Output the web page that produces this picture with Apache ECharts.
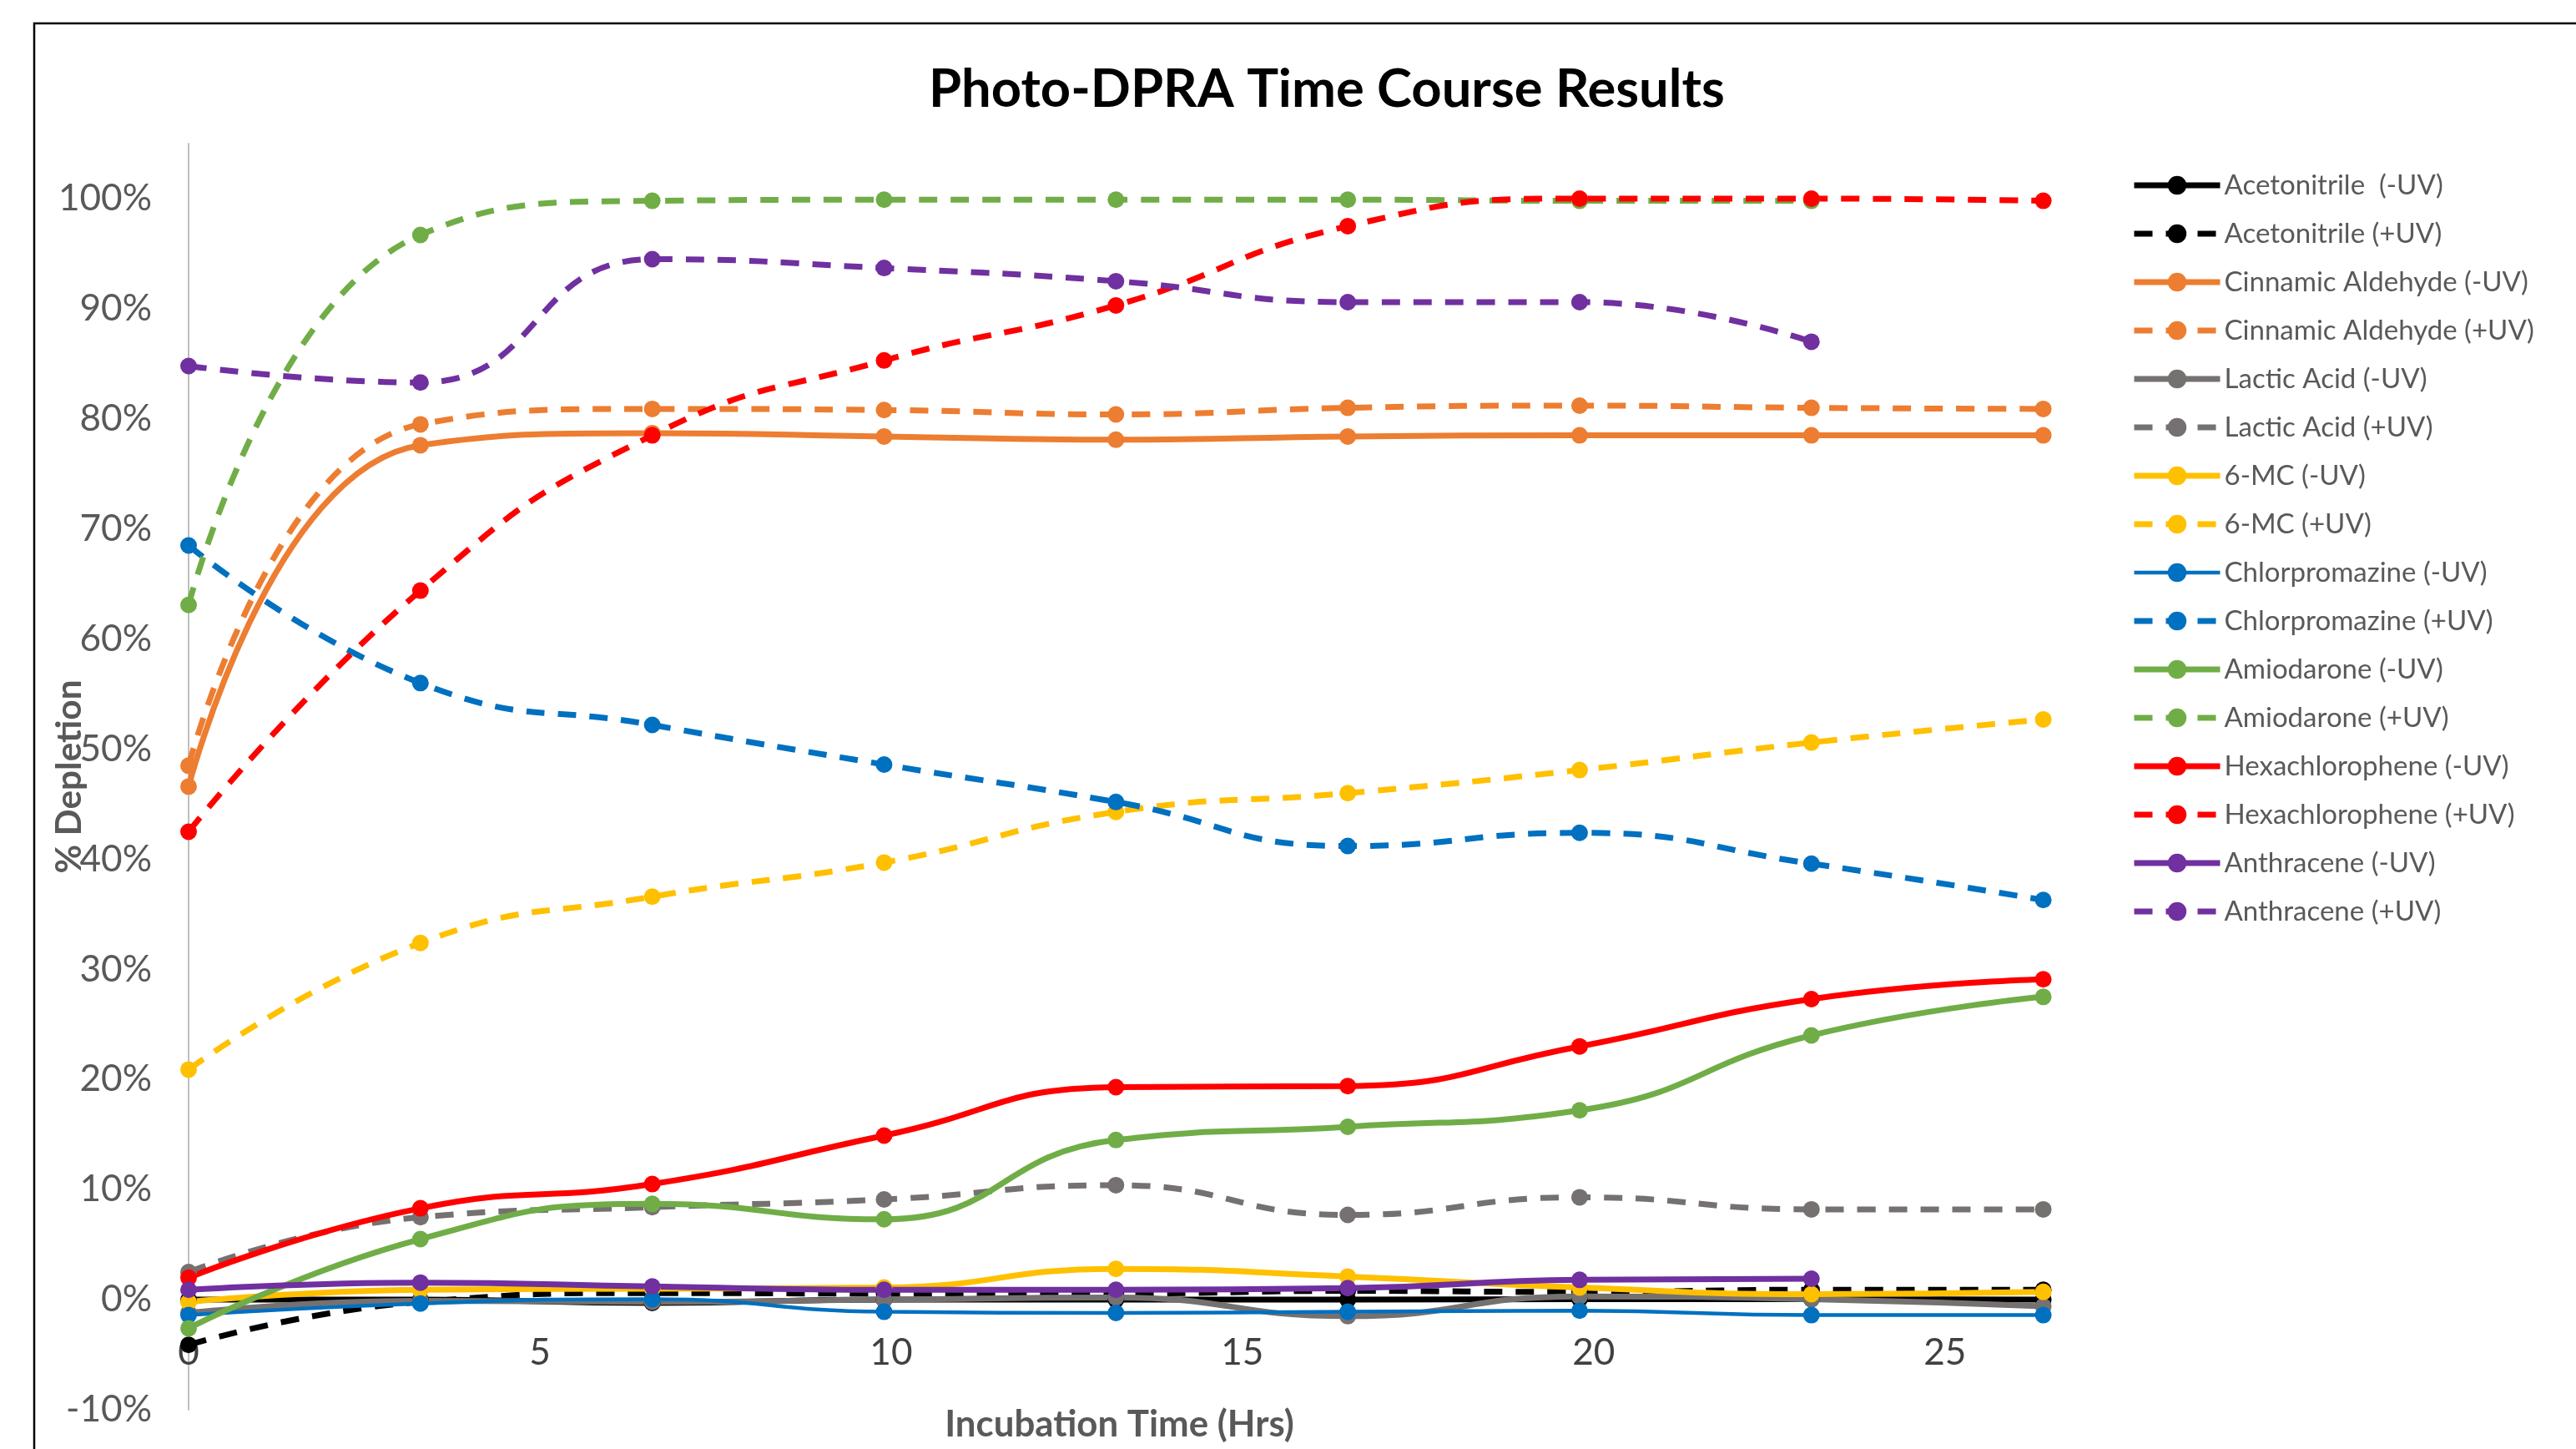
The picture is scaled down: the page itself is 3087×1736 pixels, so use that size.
<!DOCTYPE html>
<html>
<head>
<meta charset="utf-8">
<title>Photo-DPRA Time Course Results</title>
<script src="https://cdn.jsdelivr.net/npm/echarts@6/dist/echarts.min.js"></script>
<style>
  html, body { margin: 0; padding: 0; background: #fff; }
  #chart { width: 3087px; height: 1736px; }
</style>
</head>
<body>
<div id="chart"></div>
<script>
// Incubation times (hrs) and % depletion.
const hours = [0, 3.3, 6.6, 9.9, 13.2, 16.5, 19.8, 23.1, 26.4];

const acetonitrileMinus = [0.0, 0.0, -0.3, 0.0, 0.0, 0.0, 0.05, 0.05, 0.0];
const acetonitrilePlus = [-4.1, -0.2, 0.6, 0.55, 0.55, 0.8, 0.7, 0.9, 0.9];
const cinnamicMinus = [46.6, 77.6, 78.7, 78.4, 78.1, 78.4, 78.5, 78.5, 78.5];
const cinnamicPlus = [48.5, 79.5, 80.9, 80.8, 80.4, 81.0, 81.2, 81.0, 80.9];
const lacticMinus = [-1.2, -0.1, -0.2, 0.0, 0.2, -1.5, 0.3, 0.05, -0.6];
const lacticPlus = [2.5, 7.5, 8.4, 9.1, 10.4, 7.7, 9.3, 8.2, 8.2];
const mcMinus = [-0.2, 0.9, 1.0, 1.1, 2.8, 2.1, 1.1, 0.5, 0.7];
const mcPlus = [20.9, 32.4, 36.6, 39.7, 44.3, 46.0, 48.1, 50.6, 52.7];
const chlorMinus = [-1.4, -0.35, 0.05, -1.1, -1.2, -1.1, -1.0, -1.4, -1.4];
const chlorPlus = [68.5, 56.0, 52.2, 48.6, 45.2, 41.2, 42.4, 39.6, 36.3];
const amioMinus = [-2.6, 5.5, 8.7, 7.3, 14.5, 15.7, 17.2, 24.0, 27.5];
const amioPlus = [63.1, 96.7, 99.8, 99.9, 99.9, 99.9, 99.8, 99.8];
const hexaMinus = [2.0, 8.3, 10.5, 14.9, 19.3, 19.4, 23.0, 27.3, 29.1];
const hexaPlus = [42.5, 64.4, 78.5, 85.3, 90.3, 97.5, 100.0, 100.0, 99.8];
const anthMinus = [0.9, 1.55, 1.2, 0.9, 0.9, 1.05, 1.8, 1.9];
const anthPlus = [84.8, 83.3, 94.5, 93.7, 92.5, 90.6, 90.6, 87.0];

// name, values, colour, dashed (+UV runs are dashed)
const seriesTable = [
  ['Acetonitrile  (-UV)', acetonitrileMinus, '#000000', false],
  ['Acetonitrile (+UV)', acetonitrilePlus, '#000000', true],
  ['Cinnamic Aldehyde (-UV)', cinnamicMinus, '#ED7D31', false],
  ['Cinnamic Aldehyde (+UV)', cinnamicPlus, '#ED7D31', true],
  ['Lactic Acid (-UV)', lacticMinus, '#767171', false],
  ['Lactic Acid (+UV)', lacticPlus, '#767171', true],
  ['6-MC (-UV)', mcMinus, '#FFC000', false],
  ['6-MC (+UV)', mcPlus, '#FFC000', true],
  ['Chlorpromazine (-UV)', chlorMinus, '#0070C0', false],
  ['Chlorpromazine (+UV)', chlorPlus, '#0070C0', true],
  ['Amiodarone (-UV)', amioMinus, '#70AD47', false],
  ['Amiodarone (+UV)', amioPlus, '#70AD47', true],
  ['Hexachlorophene (-UV)', hexaMinus, '#FF0000', false],
  ['Hexachlorophene (+UV)', hexaPlus, '#FF0000', true],
  ['Anthracene (-UV)', anthMinus, '#7030A0', false],
  ['Anthracene (+UV)', anthPlus, '#7030A0', true],
];

const FONT = 'Lato, "Open Sans", sans-serif';

// no Calibri here, so size the stand-in font to the widths measured on the original
const measureCtx = document.createElement('canvas').getContext('2d');
function fitSize(text, weight, width) {
  measureCtx.font = weight + ' 100px Lato';
  return Math.round(1000 * width / measureCtx.measureText(text).width) / 10;
}
const titleSize = fitSize('Photo-DPRA Time Course Results', 'bold', 954);
const tickSize = fitSize('100%', 'normal', 102) * 1.1;
const legendSize = fitSize('Cinnamic Aldehyde (+UV)', 'normal', 364) * 1.02;
const xNameSize = fitSize('Incubation Time (Hrs)', 'bold', 419);
const yNameSize = fitSize('% Depletion', 'bold', 232);

// plot box; Excel puts the time axis labels on the 0% line, not at the bottom
const gridTop = 172;
const gridBottom = 1689;
const yMin = -10;
const yMax = 105;
const zeroLift = (gridBottom - gridTop) * (0 - yMin) / (yMax - yMin);

const chart = echarts.init(document.getElementById('chart'));

chart.setOption({
  animation: false,
  backgroundColor: '#fff',
  title: {
    text: 'Photo-DPRA Time Course Results',
    left: 1590 - 954 / 2,
    top: 104 - titleSize / 2 + 4,
    padding: 0,
    textStyle: { fontFamily: FONT, fontWeight: 'bold', fontSize: titleSize, color: '#000' },
  },
  graphic: [{
    type: 'rect',
    silent: true,
    z: -10,
    shape: { x: 41, y: 28, width: 3300, height: 1900 },
    style: { fill: 'transparent', stroke: '#000', lineWidth: 2.5 },
  }],
  legend: {
    orient: 'vertical',
    left: 2549,
    top: 197,
    itemWidth: 103,
    itemHeight: 28,
    itemGap: 18,
    selectedMode: false,
    lineStyle: { width: 'inherit' },
    textStyle: { fontFamily: FONT, fontSize: legendSize, color: '#595959', lineHeight: 40 },
    data: seriesTable.map(s => s[0]),
  },
  grid: {
    left: 226, right: 630, top: gridTop, bottom: 1736 - gridBottom,
    containLabel: false, outerBoundsMode: 'none',
  },
  xAxis: {
    type: 'value',
    min: 0,
    max: 26.5,
    interval: 5,
    offset: -zeroLift,
    axisLine: { show: false, onZero: false },
    axisTick: { show: false },
    splitLine: { show: false },
    axisLabel: {
      fontFamily: FONT, fontSize: tickSize, color: '#404040', margin: 42,
      showMinLabel: true,
      formatter: v => (v % 5 === 0 ? String(v) : ''),
    },
    name: 'Incubation Time (Hrs)',
    nameLocation: 'middle',
    nameGap: 128,
    nameMoveOverlap: false,
    nameTextStyle: { fontFamily: FONT, fontWeight: 'bold', fontSize: xNameSize, color: '#595959' },
  },
  yAxis: {
    type: 'value',
    min: yMin,
    max: yMax,
    interval: 10,
    axisLine: { show: true, onZero: false, lineStyle: { color: '#BFBFBF', width: 2 } },
    axisTick: { show: false },
    splitLine: { show: false },
    axisLabel: {
      fontFamily: FONT, fontSize: tickSize, color: '#595959', margin: 44,
      formatter: v => (v % 10 === 0 ? v + '%' : ''),
    },
    name: '% Depletion',
    nameLocation: 'middle',
    nameRotate: 90,
    nameGap: 122,
    nameMoveOverlap: false,
    nameTextStyle: { fontFamily: FONT, fontWeight: 'bold', fontSize: yNameSize, color: '#595959' },
  },
  series: seriesTable.map(([name, values, color, dashed]) => ({
    name,
    type: 'line',
    smooth: 0.5,
    clip: false,
    symbol: 'circle',
    symbolSize: 20,
    data: values.map((v, i) => [hours[i], v]),
    itemStyle: { color },
    lineStyle: {
      color,
      width: color === '#0070C0' && !dashed ? 4.5 : 7,
      type: dashed ? [22, 16] : 'solid',
      cap: 'butt',
    },
    emphasis: { disabled: true },
  })),
});
</script>
</body>
</html>
